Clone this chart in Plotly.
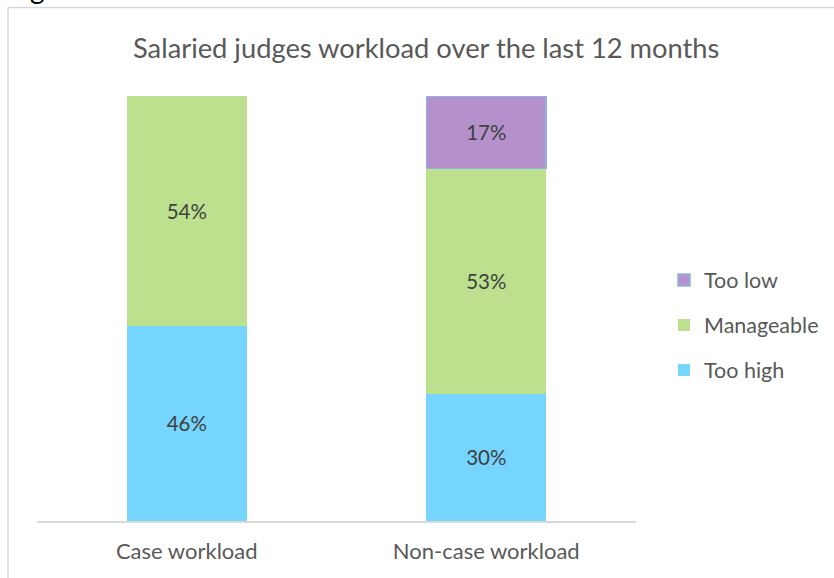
import plotly.graph_objects as go

categories = ["Case workload", "Non-case workload"]
too_high = [46, 30]
manageable = [54, 53]
too_low = [None, 17]

series_names = ["Too high", "Manageable", "Too low"]
legend_ranks = [3, 2, 1]
colors = ["#75D5FF", "#BCE08E", "#B491CB"]
line_colors = ["#75D5FF", "#BCE08E", "#8EB4E3"]

W, H = 834, 578
L, R, T, B = 37, 198, 96, 57
FONT = "Lato"
TXT = "#595959"

fig = go.Figure()
for name, vals, c, lc, rk in zip(series_names, [too_high, manageable, too_low], colors, line_colors, legend_ranks):
    fig.add_trace(go.Bar(
        x=categories, y=vals, name=name, legendgroup=name, legendrank=rk,
        marker=dict(color=c, line=dict(color=lc, width=1.5 if name == "Too low" else 0)),
        width=0.4,
        text=[f"{v}%" if v is not None else "" for v in vals],
        textposition="inside", insidetextanchor="middle",
        textfont=dict(family=FONT, size=20.5, color="#404040"),
        hoverinfo="skip",
    ))

pw = W - L - R
ph = H - T - B
def px_x(p):
    return (p - L) / pw
def px_y(p):
    return (H - B - p) / ph

fig.update_layout(
    width=W, height=H,
    margin=dict(l=L, r=R, t=T, b=B, autoexpand=False),
    barmode="stack", bargap=0.6,
    plot_bgcolor="white", paper_bgcolor="white",
    font=dict(family=FONT, color=TXT),
    showlegend=True,
    legend=dict(
        traceorder="grouped", tracegroupgap=14,
        x=px_x(664), xanchor="left", y=px_y(325), yanchor="middle",
        font=dict(family=FONT, size=21.5, color=TXT),
        itemwidth=30, bgcolor="rgba(0,0,0,0)",
    ),
    xaxis=dict(
        range=[-0.5, 1.5], showline=True, linecolor="#D9D9D9", linewidth=1.5,
        ticks="outside", ticklen=10, tickcolor="rgba(0,0,0,0)",
        tickfont=dict(family=FONT, size=22, color=TXT), showgrid=False,
    ),
    yaxis=dict(range=[0, 100], visible=False, showgrid=False),
    annotations=[
        dict(text="Salaried judges workload over the last 12 months", xref="paper", yref="paper",
             x=px_x(426), y=px_y(47), xanchor="center", yanchor="middle", showarrow=False,
             font=dict(family=FONT, size=27.3, color=TXT)),
        dict(text="g", xref="paper", yref="paper", x=px_x(37), y=px_y(7), xanchor="center",
             yanchor="bottom", showarrow=False, font=dict(family=FONT, size=28, color="#000000")),
    ],
    shapes=[
        dict(type="line", xref="paper", yref="paper", x0=px_x(8), x1=px_x(840), y0=px_y(7.5), y1=px_y(7.5),
             line=dict(color="#D9D9D9", width=1.5)),
        dict(type="line", xref="paper", yref="paper", x0=px_x(8), x1=px_x(8), y0=px_y(7.5), y1=px_y(590),
             line=dict(color="#D9D9D9", width=1.5)),
    ],
)

fig.write_html("out.html", config={"displayModeBar": False},
               post_script="document.body.style.margin='0';document.body.style.overflow='hidden';")
